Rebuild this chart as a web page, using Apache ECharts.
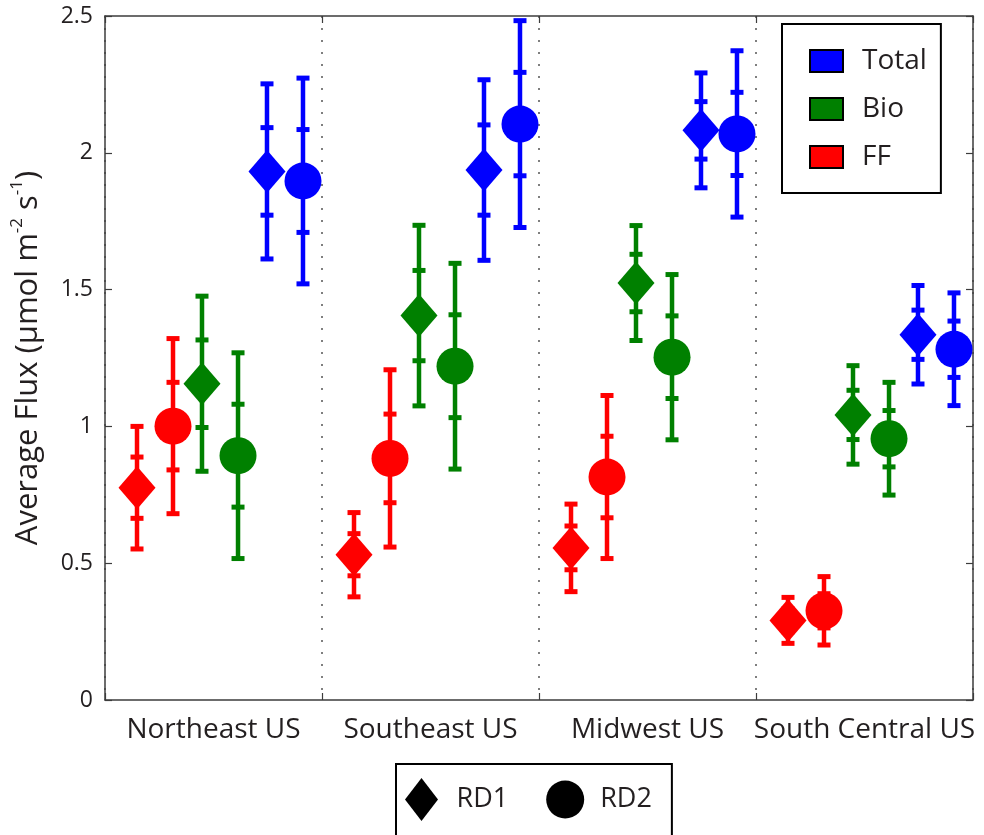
<!DOCTYPE html>
<html>
<head>
<meta charset="utf-8">
<script src="https://cdn.jsdelivr.net/npm/echarts@6/dist/echarts.min.js"></script>
<style>
html,body{margin:0;padding:0;background:#fff;}
#chart{width:984px;height:835px;}
</style>
</head>
<body>
<div id="chart"></div>
<script>
// ---- data ----
const regions = ['Northeast US', 'Southeast US', 'Midwest US', 'South Central US'];

// FF flux, RD1 (diamond) and RD2 (circle): mean and 1-sigma (inner ticks); caps at 2-sigma
const ffRD1 = [0.776, 0.531, 0.556, 0.291];
const ffRD1Err = [0.112, 0.077, 0.080, 0.042];
const ffRD2 = [1.001, 0.883, 0.815, 0.326];
const ffRD2Err = [0.160, 0.162, 0.149, 0.0625];

const bioRD1 = [1.156, 1.405, 1.524, 1.042];
const bioRD1Err = [0.160, 0.165, 0.105, 0.090];
const bioRD2 = [0.893, 1.220, 1.253, 0.955];
const bioRD2Err = [0.188, 0.188, 0.151, 0.103];

const totalRD1 = [1.932, 1.937, 2.082, 1.335];
const totalRD1Err = [0.160, 0.165, 0.105, 0.090];
const totalRD2 = [1.897, 2.105, 2.069, 1.282];
const totalRD2Err = [0.188, 0.189, 0.152, 0.103];

const colorNames = ['Total', 'Bio', 'FF'];
const rdNames = ['RD1', 'RD2'];

// ---- layout / style constants ----
const FONT = '"Open Sans", "Noto Sans", sans-serif';
const TEXT = '#231f20';
const AXIS = '#3c3c3c';
const COLORS = { Total: '#0000ff', Bio: '#008000', FF: '#ff0000' };
// horizontal slot of each marker inside its region (fraction of region width)
const SLOTS = { FF: [0.1475, 0.3134], Bio: [0.447, 0.613], Total: [0.7465, 0.9124] };

function buildPoints(group, v1, e1, v2, e2) {
  const pts = [];
  for (let r = 0; r < regions.length; r++) {
    pts.push([r + SLOTS[group][0], v1[r], e1[r], 0]);
    pts.push([r + SLOTS[group][1], v2[r], e2[r], 1]);
  }
  return pts;
}

const groupData = {
  FF: buildPoints('FF', ffRD1, ffRD1Err, ffRD2, ffRD2Err),
  Bio: buildPoints('Bio', bioRD1, bioRD1Err, bioRD2, bioRD2Err),
  Total: buildPoints('Total', totalRD1, totalRD1Err, totalRD2, totalRD2Err)
};

function errRender(color) {
  return function (params, api) {
    const x = api.value(0), y = api.value(1), s = api.value(2);
    const cx = api.coord([x, y])[0];
    const t2 = api.coord([x, y + 2 * s])[1];
    const b2 = api.coord([x, y - 2 * s])[1];
    const t1 = api.coord([x, y + s])[1];
    const b1 = api.coord([x, y - s])[1];
    const capW = 13, capH = 5, lw = 4.5;
    const style = { fill: color };
    const cap = (cy) => ({ type: 'rect', shape: { x: cx - capW / 2, y: cy - capH / 2, width: capW, height: capH }, style: style });
    return {
      type: 'group',
      children: [
        { type: 'rect', shape: { x: cx - lw / 2, y: t2, width: lw, height: b2 - t2 }, style: style },
        cap(t2), cap(b2), cap(t1), cap(b1)
      ]
    };
  };
}

const series = [];
['FF', 'Bio', 'Total'].forEach(function (g) {
  series.push({
    type: 'custom',
    name: g,
    xAxisIndex: 1,
    yAxisIndex: 0,
    renderItem: errRender(COLORS[g]),
    data: groupData[g],
    encode: { x: 0, y: 1 },
    itemStyle: { color: COLORS[g] },
    silent: true,
    z: 2
  });
  series.push({
    type: 'scatter',
    name: g,
    xAxisIndex: 1,
    yAxisIndex: 0,
    data: groupData[g],
    symbol: function (v) { return v[3] === 0 ? 'diamond' : 'circle'; },
    symbolSize: function (v) { return v[3] === 0 ? [37, 43] : 37; },
    itemStyle: { color: COLORS[g], opacity: 1 },
    emphasis: { disabled: true },
    z: 3
  });
});
rdNames.forEach(function (n) {
  series.push({ type: 'scatter', name: n, xAxisIndex: 1, yAxisIndex: 0, data: [], itemStyle: { color: '#000', opacity: 1 } });
});

const catAxisBase = {
  type: 'category',
  data: regions,
  boundaryGap: true,
  axisLine: { show: true, lineStyle: { color: AXIS, width: 1.5 } },
  axisTick: { show: true, interval: 0, inside: true, length: 7, lineStyle: { color: AXIS, width: 1.2 } }
};

const option = {
  animation: false,
  backgroundColor: '#fff',
  grid: { left: 105, right: 11, top: 16, bottom: 135, containLabel: false },
  xAxis: [
    Object.assign({}, catAxisBase, {
      position: 'bottom',
      axisLabel: { show: true, interval: 0, hideOverlap: false, fontFamily: FONT, fontSize: 28, color: TEXT, margin: 16 },
      splitLine: { show: true, interval: 0, lineStyle: { color: '#555', type: [2, 10], width: 1.5 } }
    }),
    { type: 'value', min: 0, max: 4, interval: 1, show: false },
    Object.assign({}, catAxisBase, {
      position: 'top',
      axisLabel: { show: false },
      splitLine: { show: false }
    })
  ],
  yAxis: [
    {
      type: 'value', min: 0, max: 2.5, interval: 0.5, position: 'left',
      name: '{a|Average Flux (μmol m}{s|-2}{a| s}{s|-1}{a|)}',
      nameLocation: 'middle', nameGap: 58, nameRotate: 90,
      nameTextStyle: {
        rich: {
          a: { fontFamily: FONT, fontSize: 31, color: TEXT, lineHeight: 38, verticalAlign: 'middle' },
          s: { fontFamily: FONT, fontSize: 17, color: TEXT, lineHeight: 22, verticalAlign: 'top' }
        }
      },
      axisLine: { show: true, lineStyle: { color: AXIS, width: 1.5 } },
      axisTick: { show: true, inside: true, length: 7, lineStyle: { color: AXIS, width: 1.2 } },
      axisLabel: { fontFamily: FONT, fontSize: 23, color: TEXT, margin: 12 },
      splitLine: { show: false }
    },
    {
      type: 'value', min: 0, max: 2.5, interval: 0.5, position: 'right',
      axisLine: { show: true, lineStyle: { color: AXIS, width: 1.5 } },
      axisTick: { show: true, inside: true, length: 7, lineStyle: { color: AXIS, width: 1.2 } },
      axisLabel: { show: false },
      splitLine: { show: false }
    }
  ],
  legend: [
    {
      data: colorNames.map(function (n) {
        return { name: n, icon: 'rect', itemStyle: { color: COLORS[n], borderColor: '#000', borderWidth: 2 } };
      }),
      orient: 'vertical',
      left: 782, top: 24,
      itemWidth: 33, itemHeight: 22, itemGap: 20,
      padding: [23, 14, 22, 27],
      borderColor: '#000', borderWidth: 2, borderRadius: 0,
      backgroundColor: '#fff',
      selectedMode: false,
      textStyle: { fontFamily: FONT, fontSize: 28, color: TEXT, padding: [0, 0, 0, 14] }
    },
    {
      data: [
        { name: 'RD1', icon: 'path://M16.5,0L33,21.5L16.5,43L0,21.5Z', itemStyle: { color: '#000' } },
        { name: 'RD2', icon: 'circle', itemStyle: { color: '#000' } }
      ],
      orient: 'horizontal',
      left: 396, top: 764,
      itemWidth: 38, itemHeight: 43, itemGap: 38,
      symbolKeepAspect: true,
      padding: [14, 20, 40, 9],
      borderColor: '#000', borderWidth: 2, borderRadius: 0,
      backgroundColor: '#fff',
      selectedMode: false,
      textStyle: { fontFamily: FONT, fontSize: 27, color: TEXT, padding: [0, 0, 0, 11] }
    }
  ],
  series: series
};

const chart = echarts.init(document.getElementById('chart'), null, { renderer: 'canvas' });
chart.setOption(option);
</script>
</body>
</html>
